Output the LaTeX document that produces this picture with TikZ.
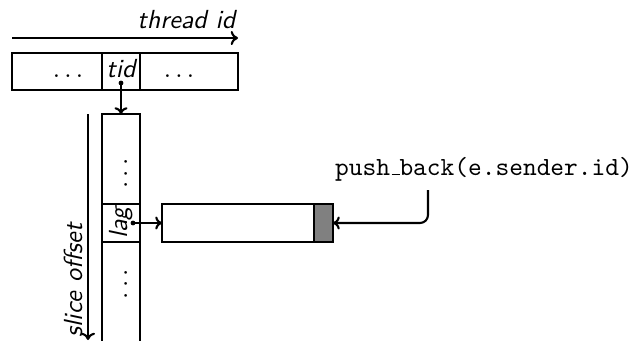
\documentclass[tikz,border=0pt]{standalone}
\usetikzlibrary{arrows.meta}
\newdimen\px
\px=0.3825pt
\begin{document}
\begin{tikzpicture}[x=0.3825pt, y=-0.3825pt,
  cell/.style={draw, line width=1pt, rectangle, inner sep=0pt, outer sep=0pt},
  lbl/.style={font=\sffamily\itshape, inner sep=0pt},
  dotsl/.style={inner sep=0pt},
  conn/.style={line width=0.8pt, -{To[length=2.6pt, width=5pt]}},
  axis/.style={line width=0.8pt, -{To[length=2.8pt, width=5.4pt]}}]
\useasboundingbox (0,0) rectangle (635,340);
\clip (0,0) rectangle (635,340);

% thread id axis
\coordinate (thA) at (12,38);
\coordinate (thB) at (238,38);
\draw[axis] (thA) -- (thB);
\node[lbl, anchor=base east] (thlabel) at (236,28) {thread id};

% row of threads
\node[cell, minimum width=90\px, minimum height=37\px] (rowL) at (57,71.5) {};
\node[cell, minimum width=38\px, minimum height=37\px] (rowT) at (121,71.5) {};
\node[cell, minimum width=98\px, minimum height=37\px] (rowR) at (189,71.5) {};
\node[dotsl, anchor=base] (dotsL) at (68,77) {$\dots$};
\node[lbl, anchor=base] (tidtxt) at (121,77) {tid};
\node[dotsl, anchor=base] (dotsR) at (179,77) {$\dots$};

% slice offset axis
\coordinate (soA) at (88,114);
\coordinate (soB) at (88,340);
\draw[axis] (soA) -- (soB);
\node[lbl, rotate=90, anchor=base east] (solabel) at (82,223) {slice offset};

% column of slices
\node[cell, minimum width=38\px, minimum height=90\px] (colA) at (121,159) {};
\node[cell, minimum width=38\px, minimum height=38\px] (colLag) at (121,223) {};
\node[cell, minimum width=38\px, minimum height=114\px] (colB) at (121,299) {};
\node[dotsl, rotate=90, anchor=base] (dotsA) at (127,173.5) {$\dots$};
\node[lbl, rotate=90, anchor=base] (lagtxt) at (127,223) {lag};
\node[dotsl, rotate=90, anchor=base] (dotsB) at (127,284) {$\dots$};

% pointers
\coordinate (tidptr) at (121,83);
\coordinate (lagptr) at (133,223);
\fill (tidptr) circle (2.4);
\fill (lagptr) circle (2.4);
\draw[conn] (tidptr) -- (colA.north);

% queue
\node[cell, minimum width=152\px, minimum height=38\px] (queue) at (238,223) {};
\node[cell, fill=gray, minimum width=19\px, minimum height=38\px] (qtail) at (323.5,223) {};
\draw[conn] (lagptr) -- (queue.west);

% push_back call
\node[inner sep=0pt, anchor=base, font=\ttfamily] (push) at (484,175)
  {push\leavevmode\kern.06em\vbox{\hrule width.3em}back(e.sender.id)};
\coordinate (pushout) at (428,190);
\draw[conn, rounded corners=8\px] (pushout) |- (qtail.east);
\end{tikzpicture}
\end{document}
